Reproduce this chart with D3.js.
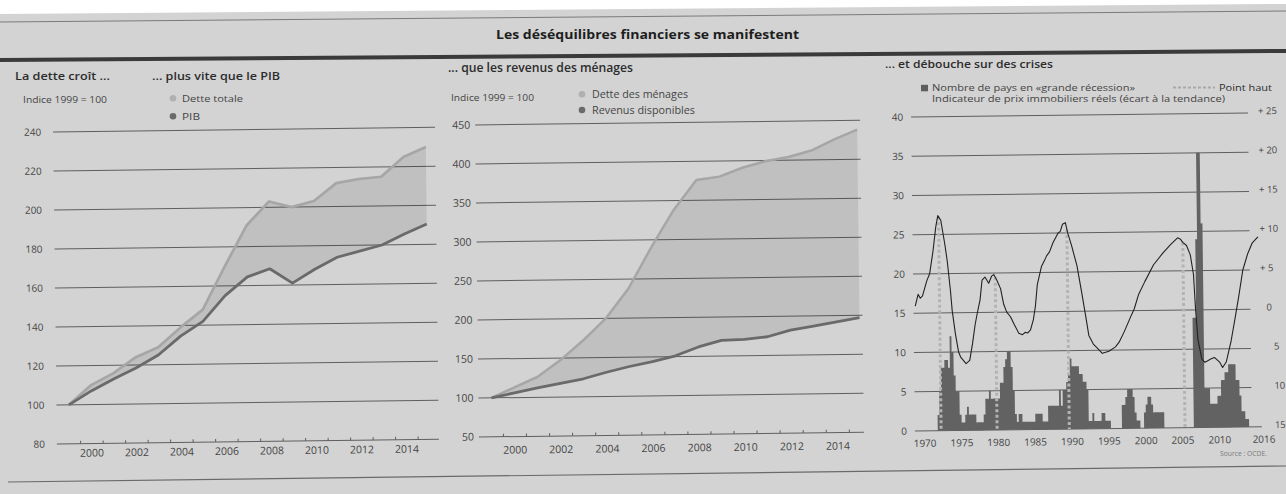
<!DOCTYPE html>
<html>
<head>
<meta charset="utf-8">
<script src="https://cdn.jsdelivr.net/npm/d3@7"></script>
<style>
  body { margin: 0; background: #fff; }
  svg { display: block; }
  text { font-family: "Open Sans", "DejaVu Sans", sans-serif; }
</style>
</head>
<body>
<svg id="chart" width="1286" height="494"></svg>
<script>
// ---- Data -------------------------------------------------------------
// Index 1999 = 100, yearly
const anneesIndice = d3.range(1999, 2016);
const detteTotale = [100, 110, 116, 124, 129, 139, 148, 170, 191, 203, 200, 203, 212, 214, 215, 225, 230];
const pib = [100, 107, 113, 118.5, 125, 134.5, 142, 155, 164.5, 168.5, 161, 168, 174, 177, 180, 185.5, 190.5];
const detteMenages = [100, 113, 126, 147, 172, 200, 238, 290, 338, 376, 380, 391, 399, 404, 412, 426, 438];
const revenusDisponibles = [100, 106, 112, 117.5, 123, 131, 138, 144, 151, 162, 170, 171, 174, 182, 187, 192, 197];

// Number of countries in "great recession", quarterly from 1970 Q1
const debutRecession = 1970;
const paysEnRecession = [
  0, 0, 0, 0,    // 1970
  0, 0, 0, 2,    // 1971
  5, 8, 8, 9,    // 1972
  9, 8, 12, 10,  // 1973
  7, 5, 5, 2,    // 1974
  1, 1, 2, 3,    // 1975
  2, 2, 2, 2,    // 1976
  1, 1, 1, 1,    // 1977
  2, 4, 4, 5,    // 1978
  4, 4, 4, 4,    // 1979
  4, 6, 6, 8,    // 1980
  9, 10, 10, 8,  // 1981
  5, 2, 1, 2,    // 1982
  2, 1, 1, 1,    // 1983
  1, 1, 1, 1,    // 1984
  2, 2, 2, 2,    // 1985
  1, 1, 1, 3,    // 1986
  3, 3, 3, 3,    // 1987
  3, 5, 3, 5,    // 1988
  5, 6, 7, 9,    // 1989
  8, 8, 8, 8,    // 1990
  7, 7, 6, 6,    // 1991
  5, 1, 1, 2,    // 1992
  1, 1, 1, 1,    // 1993
  2, 2, 1, 1,    // 1994
  1, 0, 0, 0,    // 1995
  0, 0, 0, 3,    // 1996
  3, 4, 5, 5,    // 1997
  5, 4, 2, 1,    // 1998
  1, 0, 0, 2,    // 1999
  3, 4, 4, 3,    // 2000
  2, 2, 2, 2,    // 2001
  2, 2, 0, 0,    // 2002
  0, 0, 0, 0,    // 2003
  0, 0, 0, 0,    // 2004
  0, 0, 0, 0,    // 2005
  0, 0, 14, 14,  // 2006
  24, 35, 35, 26,// 2007
  5, 5, 5, 3,    // 2008
  3, 3, 3, 4,    // 2009
  4, 6, 6, 7,    // 2010
  7, 8, 8, 8,    // 2011
  8, 6, 6, 4,    // 2012
  2, 2, 1, 1,    // 2013
  0, 0, 0, 0,    // 2014
  0, 0, 0, 0     // 2015
];

// Real house-price indicator, gap to trend (right axis)
const prixImmoAnnees = [1968.9, 1969.3, 1969.6, 1969.9, 1970.5, 1970.9, 1971.4, 1971.8, 1972.1, 1972.5,
  1973.0, 1973.3, 1973.7, 1973.9, 1974.3, 1974.7, 1975.0, 1975.7, 1976.2, 1976.6,
  1977.0, 1977.3, 1977.7, 1978.0, 1978.4, 1978.9, 1979.3, 1979.6, 1980.0, 1980.5,
  1980.9, 1981.3, 1981.8, 1982.3, 1982.9, 1983.4, 1983.8, 1984.1, 1984.5, 1984.9,
  1985.2, 1985.5, 1986.1, 1986.5, 1986.8, 1987.2, 1987.7, 1988.4, 1988.7, 1989.0,
  1989.4, 1989.7, 1990.2, 1990.9, 1991.5, 1992.0, 1992.4, 1993.0, 1993.6, 1994.2,
  1995.1, 1996.0, 1996.5, 1997.2, 1998.1, 1998.6, 1999.2, 2000.1, 2001.3, 2002.6,
  2003.7, 2004.6, 2005.0, 2005.3, 2005.8, 2006.3, 2006.7, 2006.9, 2007.2, 2007.7,
  2008.1, 2008.5, 2008.9, 2009.4, 2010.1, 2010.5, 2011.0, 2011.7, 2012.3, 2012.8,
  2013.4, 2014.1, 2014.7, 2015.5];
const prixImmoEcart = [0.9, 2.4, 1.9, 2.2, 4.1, 5.0, 7.9, 10.9, 12.4, 11.8,
  8.8, 6.7, 2.8, 0.3, -2.7, -5.0, -5.7, -6.5, -6.1, -4.0,
  -1.5, -0.1, 1.6, 4.1, 4.5, 3.7, 4.6, 4.8, 4.1, 3.0,
  1.0, 0.0, -0.6, -1.6, -2.7, -2.9, -2.6, -2.7, -2.3, -1.0,
  0.7, 3.5, 5.8, 6.5, 7.1, 7.6, 8.8, 10.0, 10.2, 11.1,
  11.3, 10.0, 8.4, 5.8, 2.4, -0.6, -3.1, -4.2, -4.8, -5.4,
  -5.15, -4.6, -4.0, -2.7, -0.8, 0.2, 2.0, 3.7, 5.8, 7.3,
  8.4, 9.2, 9.0, 8.6, 8.2, 7.0, 4.5, 0.5, -3.8, -6.3,
  -6.7, -6.5, -6.3, -6.1, -6.7, -7.4, -6.7, -4.0, -1.0, 1.6,
  5.0, 7.1, 8.4, 9.2];
const pointsHauts = [1972.2, 1979.8, 1989.6, 2005.3];

// Axis ticks
const ticksDette = [80, 100, 120, 140, 160, 180, 200, 220, 240];
const ticksMenages = [50, 100, 150, 200, 250, 300, 350, 400, 450];
const ticksPays = [0, 5, 10, 15, 20, 25, 30, 35, 40];
const ticksEcart = [25, 20, 15, 10, 5, 0, -5, -10, -15];
const labelsAnnees = [2000, 2002, 2004, 2006, 2008, 2010, 2012, 2014];
const labelsCrises = [1970, 1975, 1980, 1985, 1990, 1995, 2000, 2005, 2010, 2016];

// ---- Drawing ----------------------------------------------------------
const svg = d3.select("#chart");
const PAPER = "#d3d3d3", GRID = "#5f5f5f", LABEL = "#454545", INK = "#2c2c2c";
const LIGHT = "#a6a6a6", DARK = "#6a6a6a";
const TILT = -0.7;

svg.append("rect").attr("width", 1286).attr("height", 494).attr("fill", "#fff");
svg.append("polygon").attr("points", "0,14 1286,4 1286,494 0,494").attr("fill", PAPER);

// header band rules
svg.append("line").attr("x1", 0).attr("y1", 22).attr("x2", 1286).attr("y2", 11)
  .attr("stroke", "#7a7a7a").attr("stroke-width", 1);
svg.append("line").attr("x1", 0).attr("y1", 60).attr("x2", 1286).attr("y2", 51)
  .attr("stroke", "#3a3a3a").attr("stroke-width", 4);
svg.append("line").attr("x1", 8).attr("y1", 482).attr("x2", 1286).attr("y2", 466)
  .attr("stroke", "#6a6a6a").attr("stroke-width", 1.2);

function txt(parent, s, x, y, o = {}) {
  const t = parent.append("text").attr("x", x).attr("y", y).text(s)
    .attr("font-size", o.size || 10).attr("fill", o.fill || LABEL)
    .attr("font-weight", o.weight || 400)
    .attr("text-anchor", o.anchor || "start");
  if (o.len) t.attr("textLength", o.len).attr("lengthAdjust", "spacingAndGlyphs");
  return t;
}

txt(svg, "Les déséquilibres financiers se manifestent", 496, 38.5,
  { size: 12.5, weight: 700, fill: "#1e1e1e", len: 303 });

// ---------- Panel 1: total debt vs GDP ----------
{
  const x = d3.scaleLinear([1999, 2015], [67.5, 427.5]);
  const y = d3.scaleLinear([80, 240], [444, 132]);
  const g = svg.append("g").attr("transform", `rotate(${TILT},55,288)`);

  g.selectAll(".grid").data(ticksDette).join("line")
    .attr("x1", 55).attr("x2", 437).attr("y1", d => y(d)).attr("y2", d => y(d))
    .attr("stroke", GRID).attr("stroke-width", 1);
  g.selectAll(".yl").data(ticksDette).join("text")
    .attr("x", 43).attr("y", d => y(d) + 3.5).attr("text-anchor", "end")
    .attr("font-size", 10).attr("fill", LABEL).text(d => d);
  g.selectAll(".tk").data(d3.range(1999.5, 2015, 1)).join("line")
    .attr("x1", d => x(d)).attr("x2", d => x(d)).attr("y1", y(80)).attr("y2", y(80) - 3)
    .attr("stroke", GRID);
  g.selectAll(".xl").data(labelsAnnees).join("text")
    .attr("x", d => x(d)).attr("y", 457).attr("text-anchor", "middle")
    .attr("font-size", 10.5).attr("fill", LABEL).text(d => d);

  const rows = anneesIndice.map((a, i) => ({ a, d: detteTotale[i], p: pib[i] }));
  g.append("path").datum(rows)
    .attr("d", d3.area().x(r => x(r.a)).y0(r => y(r.p)).y1(r => y(r.d)))
    .attr("fill", "#000").attr("fill-opacity", 0.09);
  g.append("path").datum(rows).attr("d", d3.line().x(r => x(r.a)).y(r => y(r.d)))
    .attr("fill", "none").attr("stroke", LIGHT).attr("stroke-width", 2.7).attr("stroke-linejoin", "round");
  g.append("path").datum(rows).attr("d", d3.line().x(r => x(r.a)).y(r => y(r.p)))
    .attr("fill", "none").attr("stroke", DARK).attr("stroke-width", 2.8).attr("stroke-linejoin", "round");

  txt(svg, "La dette croît ...", 15, 80, { size: 11.5, weight: 600, fill: INK, len: 95 });
  txt(svg, "... plus vite que le PIB", 152, 80, { size: 11.5, weight: 600, fill: INK, len: 128 });
  txt(svg, "Indice 1999 = 100", 23, 103, { size: 9, len: 84 });
  svg.append("circle").attr("cx", 173).attr("cy", 98.3).attr("r", 3.3).attr("fill", "#b0b0b0");
  txt(svg, "Dette totale", 182, 101.8, { size: 9.5, len: 61 });
  svg.append("circle").attr("cx", 173).attr("cy", 116.3).attr("r", 3.3).attr("fill", DARK);
  txt(svg, "PIB", 182, 119.8, { size: 9.5, len: 18 });
}

// ---------- Panel 2: household debt vs disposable income ----------
{
  const x = d3.scaleLinear([1999, 2015], [490, 859]);
  const y = d3.scaleLinear([50, 450], [437, 125]);
  const g = svg.append("g").attr("transform", `rotate(${TILT},477,280)`);

  g.selectAll(".grid").data(ticksMenages).join("line")
    .attr("x1", 477).attr("x2", 862).attr("y1", d => y(d)).attr("y2", d => y(d))
    .attr("stroke", GRID).attr("stroke-width", 1);
  g.selectAll(".yl").data(ticksMenages).join("text")
    .attr("x", 472).attr("y", d => y(d) + 3.5).attr("text-anchor", "end")
    .attr("font-size", 10.5).attr("fill", LABEL).text(d => d);
  g.selectAll(".tk").data(d3.range(1999.5, 2015, 1)).join("line")
    .attr("x1", d => x(d)).attr("x2", d => x(d)).attr("y1", y(50)).attr("y2", y(50) - 3)
    .attr("stroke", GRID);
  g.selectAll(".xl").data(labelsAnnees).join("text")
    .attr("x", d => x(d)).attr("y", 454).attr("text-anchor", "middle")
    .attr("font-size", 10.5).attr("fill", LABEL).text(d => d);

  const rows = anneesIndice.map((a, i) => ({ a, d: detteMenages[i], r: revenusDisponibles[i] }));
  g.append("path").datum(rows)
    .attr("d", d3.area().x(r => x(r.a)).y0(r => y(r.r)).y1(r => y(r.d)))
    .attr("fill", "#000").attr("fill-opacity", 0.085);
  g.append("path").datum(rows).attr("d", d3.line().x(r => x(r.a)).y(r => y(r.d)))
    .attr("fill", "none").attr("stroke", LIGHT).attr("stroke-width", 2.5).attr("stroke-linejoin", "round");
  g.append("path").datum(rows).attr("d", d3.line().x(r => x(r.a)).y(r => y(r.r)))
    .attr("fill", "none").attr("stroke", DARK).attr("stroke-width", 2.8).attr("stroke-linejoin", "round");

  txt(svg, "... que les revenus des ménages", 448, 72, { size: 12, weight: 600, fill: INK, len: 185 });
  txt(svg, "Indice 1999 = 100", 451, 100.5, { size: 9, len: 83 });
  svg.append("circle").attr("cx", 582).attr("cy", 94.3).attr("r", 3.3).attr("fill", "#b0b0b0");
  txt(svg, "Dette des ménages", 592, 98, { size: 10, len: 96 });
  svg.append("circle").attr("cx", 582).attr("cy", 110).attr("r", 3.3).attr("fill", DARK);
  txt(svg, "Revenus disponibles", 592, 114, { size: 10, len: 103 });
}

// ---------- Panel 3: recessions and house prices ----------
{
  const x = d3.scaleLinear([1970, 2016], [923, 1262]);
  const yPays = d3.scaleLinear([0, 40], [431, 117]);
  const yEcart = d3.scaleLinear([-15, 25], [431, 117]);
  const g = svg.append("g").attr("transform", `rotate(${TILT},913,275)`);

  g.selectAll(".grid").data(ticksPays).join("line")
    .attr("x1", 913).attr("x2", d => d === 0 ? 1260 : 1250)
    .attr("y1", d => yPays(d)).attr("y2", d => yPays(d))
    .attr("stroke", GRID).attr("stroke-width", 1);
  g.selectAll(".yl").data(ticksPays).join("text")
    .attr("x", 905).attr("y", d => yPays(d) + 3.5).attr("text-anchor", "end")
    .attr("font-size", 10).attr("fill", LABEL).text(d => d);
  g.selectAll(".yr").data(ticksEcart).join("text")
    .attr("x", d => d > 0 ? 1260 : d === 0 ? 1266 : 1273)
    .attr("y", d => yEcart(d) + 1.5)
    .attr("font-size", 9.5).attr("fill", LABEL)
    .text(d => d > 0 ? "+ " + d : String(Math.abs(d)));
  g.selectAll(".xl").data(labelsCrises).join("text")
    .attr("x", d => x(d)).attr("y", 447).attr("text-anchor", "middle")
    .attr("font-size", 10).attr("fill", LABEL).text(d => d);

  // recession histogram drawn as one stepped area (quarterly steps)
  const steps = paysEnRecession.map((v, i) => ({ t: debutRecession + i / 4, v }));
  steps.push({ t: debutRecession + paysEnRecession.length / 4, v: 0 });
  g.append("path").datum(steps)
    .attr("d", d3.area().curve(d3.curveStepAfter)
      .x(s => x(s.t)).y0(yPays(0)).y1(s => yPays(s.v)))
    .attr("fill", "#626262");

  // "Point haut" markers
  const prixAt = an => {
    const i = d3.bisectLeft(prixImmoAnnees, an);
    const a0 = prixImmoAnnees[i - 1], a1 = prixImmoAnnees[i];
    const t = (an - a0) / (a1 - a0);
    return prixImmoEcart[i - 1] + t * (prixImmoEcart[i] - prixImmoEcart[i - 1]);
  };
  g.selectAll(".peak").data(pointsHauts).join("line")
    .attr("x1", d => x(d)).attr("x2", d => x(d))
    .attr("y1", d => yEcart(prixAt(d))).attr("y2", yPays(0))
    .attr("stroke", "#b3b3b3").attr("stroke-width", 3).attr("stroke-dasharray", "3,2.5");

  const pts = prixImmoAnnees.map((a, i) => [a, prixImmoEcart[i]]);
  g.append("path").datum(pts)
    .attr("d", d3.line().x(p => x(p[0])).y(p => yEcart(p[1])))
    .attr("fill", "none").attr("stroke", "#222").attr("stroke-width", 1.1).attr("stroke-linejoin", "round");

  txt(svg, "... et débouche sur des crises", 885, 67.5, { size: 11.5, weight: 600, fill: INK, len: 168 });
  svg.append("rect").attr("x", 921).attr("y", 84.8).attr("width", 7).attr("height", 6.5).attr("fill", "#5e5e5e");
  txt(svg, "Nombre de pays en «grande récession»", 932, 90.5, { size: 9, len: 203 });
  svg.append("line").attr("x1", 1173).attr("x2", 1215).attr("y1", 87.5).attr("y2", 87.5)
    .attr("stroke", "#a9a9a9").attr("stroke-width", 2.2).attr("stroke-dasharray", "3,2");
  txt(svg, "Point haut", 1219, 90.5, { size: 9.5, fill: INK, len: 53 });
  txt(svg, "Indicateur de prix immobiliers réels (écart à la tendance)", 932, 101.5, { size: 9, len: 293 });
  txt(svg, "Source : OCDE.", 1267, 456, { size: 6.5, fill: "#7a7a7a", anchor: "end", len: 47 });
}
</script>
</body>
</html>
